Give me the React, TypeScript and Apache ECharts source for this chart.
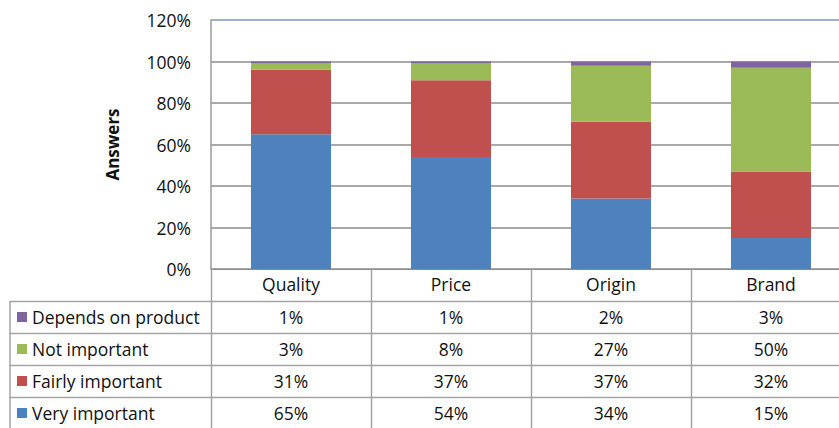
import React, { useEffect, useRef } from "react";
import * as echarts from "echarts";

const categories = ["Quality", "Price", "Origin", "Brand"];
const veryImportant = [65, 54, 34, 15];
const fairlyImportant = [31, 37, 37, 32];
const notImportant = [3, 8, 27, 50];
const dependsOnProduct = [1, 1, 2, 3];
const seriesNames = ["Very important", "Fairly important", "Not important", "Depends on product"];
const seriesValues = [veryImportant, fairlyImportant, notImportant, dependsOnProduct];
const seriesColors = ["#4F81BD", "#C0504D", "#9BBB59", "#8064A2"];

const FONT = "Open Sans";
const FS = 17.5;
const GRID_GRAY = "#8c8c8c";
const TABLE_GRAY = "#a3a3a3";

export default function App() {
  const ref = useRef<HTMLDivElement>(null);
  useEffect(() => {
    document.body.style.margin = "0";
    if (!ref.current) return;
    const chart = echarts.init(ref.current, null, { renderer: "svg" });
    const splitColors = ["#8c8c8c", "#8c8c8c", "#8c8c8c", "#8c8c8c", "#8c8c8c", "#8c8c8c", "#8496bc"];
    chart.setOption({
      animation: false,
      textStyle: { fontFamily: FONT },
      grid: { left: 211, top: 20, width: 640, height: 249 },
      xAxis: {
        type: "category",
        data: categories,
        axisLine: { show: true, lineStyle: { color: GRID_GRAY, width: 1 } },
        axisTick: { show: false },
        axisLabel: { fontSize: FS, color: "#111", margin: 6, fontFamily: FONT },
        splitLine: { show: false },
      },
      yAxis: {
        type: "value",
        min: 0,
        max: 120,
        interval: 20,
        name: "Answers",
        nameLocation: "middle",
        nameRotate: 90,
        nameGap: 90,
        nameTextStyle: { fontSize: 17, fontWeight: "bold", color: "#111", fontFamily: FONT },
        axisLine: { show: true, lineStyle: { color: "#9a9a9a", width: 1.5 } },
        axisTick: { show: false },
        axisLabel: { formatter: "{value}%", fontSize: FS, color: "#111", margin: 20, fontFamily: FONT },
        splitLine: { show: true, lineStyle: { color: splitColors, width: 1.5 } },
      },
      series: seriesNames.map((name, i) => ({
        name,
        type: "bar",
        stack: "total",
        barWidth: "50%",
        itemStyle: { color: seriesColors[i] },
        data: seriesValues[i],
      })),
    });

    const x0 = chart.convertToPixel({ xAxisIndex: 0 }, categories[0]) as number;
    const x1 = chart.convertToPixel({ xAxisIndex: 0 }, categories[1]) as number;
    const colW = x1 - x0;
    const yZero = chart.convertToPixel({ yAxisIndex: 0 }, 0) as number;
    const rowH = 32;
    const tableLeft = 10;
    const gridLeft = x0 - colW / 2;
    const W = 900;
    const bottom = yZero + rowH * 5;

    const g: any[] = [];
    const line = (xa: number, ya: number, xb: number, yb: number) =>
      g.push({ type: "line", shape: { x1: xa, y1: ya, x2: xb, y2: yb }, style: { stroke: TABLE_GRAY, lineWidth: 1.5 }, z: 10 });

    for (let r = 1; r <= 5; r++) {
      const y = Math.round(yZero + rowH * r) + 0.5;
      line(tableLeft, y, W, y);
    }
    line(tableLeft, yZero + rowH, tableLeft, bottom);
    for (let c = 0; c <= categories.length; c++) {
      const x = Math.round(gridLeft + colW * c) + 0.5;
      line(x, yZero, x, bottom);
    }
    const order = [3, 2, 1, 0];
    order.forEach((si, r) => {
      const cy = yZero + rowH * (r + 1) + rowH / 2;
      g.push({ type: "rect", shape: { x: 17, y: cy - 5, width: 10, height: 10 }, style: { fill: seriesColors[si] }, z: 11 });
      g.push({
        type: "text",
        x: 32,
        y: cy,
        style: { text: seriesNames[si], fontSize: FS, fontFamily: FONT, fill: "#111", textVerticalAlign: "middle", textAlign: "left" },
        z: 11,
      });
      categories.forEach((cat, ci) => {
        const cx = chart.convertToPixel({ xAxisIndex: 0 }, cat) as number;
        g.push({
          type: "text",
          x: cx,
          y: cy,
          style: { text: seriesValues[si][ci] + "%", fontSize: FS, fontFamily: FONT, fill: "#111", textVerticalAlign: "middle", textAlign: "center" },
          z: 11,
        });
      });
    });
    chart.setOption({ graphic: g });

    return () => chart.dispose();
  }, []);
  return (
    <div style={{ width: 839, height: 428, overflow: "hidden" }}>
      <div ref={ref} style={{ width: 900, height: 428 }} />
    </div>
  );
}
